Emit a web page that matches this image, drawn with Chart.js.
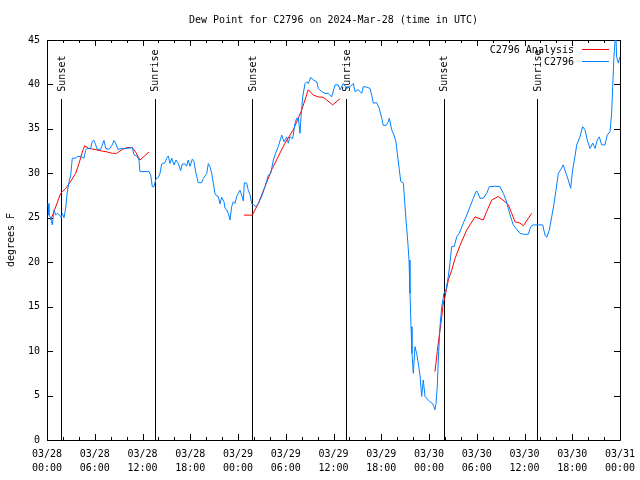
<!DOCTYPE html>
<html>
<head>
<meta charset="utf-8">
<script src="https://cdn.jsdelivr.net/npm/chart.js@4/dist/chart.umd.min.js"></script>
<style>
  body { margin: 0; background: #fff; }
  canvas { display: block; }
</style>
</head>
<body>
<canvas id="dewpoint" width="640" height="480"></canvas>
<script>
// hours since 2024-03-28 00:00 UTC
const obsHours = [
  0.13, 0.25, 0.46, 0.67, 0.88, 1.09, 1.29, 1.6, 1.8, 1.92,
  2.14, 2.35, 2.55, 2.76, 2.98, 3.18, 3.61, 3.81, 4.23, 4.65,
  4.86, 5.06, 5.49, 5.69, 5.91, 6.12, 6.32, 6.75, 7.16, 7.38,
  7.79, 8.2, 8.42, 8.63, 8.92, 9.46, 10.09, 10.72, 10.93, 11.35,
  11.56, 11.68, 12.19, 12.82, 13.03, 13.23, 13.44, 13.7, 13.99, 14.2,
  14.41, 14.83, 15.04, 15.24, 15.46, 15.67, 15.96, 16.21, 16.5, 16.8,
  17.0, 17.34, 17.55, 17.75, 17.97, 18.26, 18.47, 18.72, 19.0, 19.44,
  19.64, 20.07, 20.27, 20.48, 20.69, 20.9, 21.1, 21.32, 21.52, 21.74,
  21.95, 22.24, 22.37, 22.58, 22.78, 23.0, 23.2, 23.41, 23.62, 23.84,
  24.04, 24.25, 24.46, 24.67, 24.8, 25.09, 25.29, 25.5, 25.72, 26.0,
  26.26, 26.55, 26.98, 27.39, 27.81, 28.11, 28.44, 28.65, 29.06, 29.49,
  29.78, 30.12, 30.32, 30.53, 30.87, 31.16, 31.37, 31.58, 31.79, 31.92,
  32.13, 32.42, 32.63, 32.83, 33.13, 33.46, 33.89, 34.09, 34.51, 34.93,
  35.35, 35.77, 36.19, 36.6, 36.82, 37.23, 37.66, 38.07, 38.49, 38.7,
  39.12, 39.54, 39.74, 40.17, 40.59, 40.8, 41.0, 41.43, 41.76, 42.06,
  42.26, 42.6, 42.89, 43.01, 43.31, 43.6, 43.85, 44.02, 44.27, 44.45,
  44.78, 44.9, 45.11, 45.32, 45.49, 45.61, 45.74, 45.86, 46.03, 46.24,
  46.45, 46.66, 46.87, 47.08, 47.28, 47.5, 47.79, 48.12, 48.46, 48.75,
  48.88, 49.04, 49.17, 49.38, 49.6, 49.88, 50.14, 50.43, 50.64, 50.85,
  51.18, 51.5, 51.81, 52.31, 52.74, 53.15, 53.57, 53.9, 54.07, 54.41,
  54.82, 55.25, 55.58, 56.29, 56.92, 57.34, 57.67, 57.96, 58.26, 58.59,
  58.93, 59.43, 59.85, 60.48, 60.78, 61.1, 61.73, 62.29, 62.57, 62.79,
  63.11, 63.42, 63.71, 63.96, 64.25, 64.55, 64.87, 65.21, 65.5, 65.8,
  66.05, 66.34, 66.56, 66.97, 67.31, 67.6, 67.89, 68.23, 68.57, 68.86,
  69.15, 69.4, 69.7, 70.11, 70.4, 70.74, 70.95, 71.08, 71.24, 71.46,
  71.58, 71.78, 72.0
];
const obsDewPoint = [
  26.6, 25.3, 25.0, 24.2, 25.9, 25.3, 25.5, 25.3, 25.0, 25.5,
  25.0, 26.1, 27.9, 29.0, 29.8, 31.7, 31.7, 31.9, 31.9, 31.7,
  32.6, 32.8, 32.8, 33.6, 33.7, 33.2, 32.7, 32.7, 33.7, 32.8,
  32.7, 33.2, 33.7, 33.4, 32.7, 32.8, 32.8, 32.9, 32.1, 31.9,
  31.5, 30.2, 30.2, 30.2, 29.8, 28.5, 28.5, 29.4, 29.55, 30.0,
  31.05, 31.2, 31.7, 31.95, 31.1, 31.7, 30.95, 31.5, 31.1, 30.3,
  31.05, 31.05, 30.8, 31.5, 30.8, 31.6, 31.3, 30.0, 28.95, 28.95,
  29.4, 30.0, 31.1, 30.75, 30.0, 28.9, 27.75, 27.45, 27.4, 26.55,
  27.3, 26.8, 26.05, 25.9, 25.5, 24.75, 26.25, 26.8, 26.6, 27.4,
  27.75, 28.1, 27.55, 26.9, 28.95, 28.9, 28.1, 27.6, 26.6, 26.45,
  26.25, 26.6, 27.4, 28.5, 29.8, 30.0, 31.5, 32.1, 33.0, 34.3,
  33.55, 34.1, 33.4, 34.1, 33.9, 35.6, 36.2, 36.2, 34.5, 36.4,
  38.6, 40.1, 40.3, 40.1, 40.8, 40.5, 40.3, 39.55, 39.2, 39.0,
  39.0, 38.6, 39.95, 39.95, 39.4, 40.1, 39.55, 39.75, 40.1, 39.2,
  39.4, 39.0, 39.75, 39.7, 39.55, 38.8, 37.9, 37.95, 37.3, 36.2,
  35.4, 35.4, 35.8, 36.2, 34.9, 34.3, 33.55, 32.25, 30.4, 29.1,
  28.9, 27.4, 24.75, 22.5, 20.25, 16.5, 12.75, 9.75, 7.5, 10.5,
  9.75, 8.6, 7.3, 4.9, 6.75, 4.9, 4.6, 4.3, 4.1, 3.4,
  4.1, 6.0, 9.0, 12.75, 15.0, 16.5, 16.9, 18.4, 20.0, 21.75,
  21.8, 22.9, 23.25, 24.4, 25.3, 26.25, 27.2, 27.95, 27.95, 27.2,
  27.2, 27.75, 28.5, 28.55, 28.5, 27.75, 27.0, 26.05, 25.1, 24.2,
  23.8, 23.25, 23.15, 23.15, 24.0, 24.2, 24.2, 24.2, 23.05, 22.8,
  23.6, 25.1, 26.6, 28.1, 30.0, 30.4, 30.95, 30.0, 29.25, 28.3,
  30.4, 31.9, 33.2, 34.1, 35.25, 34.9, 33.75, 32.8, 33.4, 32.8,
  33.75, 34.1, 33.2, 33.2, 34.3, 34.7, 36.75, 39.75, 43.1, 46,
  43.1, 42.4, 43.1
];

// analysis runs, null = break between runs
const anaHours = [
  0.46, 0.88, 1.72, 2.35, 2.98, 3.61, 4.02, 4.44, 4.73, 5.28,
  5.91, 6.95, 7.58, 8.2, 8.76, 9.46, 10.09, 10.72, 11.14, 11.68,
  12.19, 12.82, 18,
  24.75, 25.8, 26.55, 27.39, 28.23, 29.06, 29.9, 30.95, 32.0, 32.83,
  33.46, 34.09, 34.72, 35.14, 35.9, 36.82, 42,
  48.75, 49.04, 49.29, 49.5, 49.8, 50.01, 50.43, 50.85, 51.27, 51.9,
  52.73, 53.78, 54.82, 55.25, 55.88, 56.71, 57.55, 57.97, 58.39, 58.8,
  59.43, 59.85, 60.9
];
const anaDewPoint = [
  24.75, 25.7, 27.75, 28.3, 29.1, 30.0, 31.1, 32.4, 33.1, 32.8,
  32.7, 32.5, 32.4, 32.25, 32.25, 32.7, 32.9, 32.9, 32.4, 31.5,
  31.9, 32.4, null,
  25.3, 25.3, 26.6, 28.5, 30.4, 31.9, 33.4, 34.9, 37.1, 39.4,
  38.8, 38.6, 38.55, 38.25, 37.7, 38.4, null,
  7.7, 9.95, 11.8, 13.1, 15.4, 16.1, 18.0, 19.1, 20.4, 21.9,
  23.6, 25.1, 24.75, 25.7, 27.0, 27.4, 26.8, 26.45, 25.5, 24.55,
  24.4, 24.1, 25.5
];

const sunEvents = ['Sunset', 'Sunrise', 'Sunset', 'Sunrise', 'Sunset', 'Sunrise'];
const sunHours = [1.8, 13.55, 25.8, 37.6, 49.85, 61.6];
const sunLineTop = 38.4; // degrees F where marker lines start

const xTickDays = ['03/28', '03/28', '03/28', '03/28', '03/29', '03/29', '03/29',
  '03/29', '03/30', '03/30', '03/30', '03/30', '03/31'];
const xTickTimes = ['00:00', '06:00', '12:00', '18:00', '00:00', '06:00', '12:00',
  '18:00', '00:00', '06:00', '12:00', '18:00', '00:00'];

const seriesNames = ['C2796 Analysis', 'C2796'];
const seriesColors = ['#ff0000', '#0080ff'];

const MONO = "'DejaVu Sans Mono', 'Liberation Mono', monospace";
Chart.defaults.font.family = MONO;
Chart.defaults.font.size = 10;
Chart.defaults.color = '#000';

function crisp(v) { return Math.round(v) + 0.5; }

const gnuplotFrame = {
  id: 'gnuplotFrame',
  beforeDatasetsDraw(chart) {
    const { ctx, chartArea: a, scales: { x, y } } = chart;
    ctx.save();
    ctx.strokeStyle = '#000';
    ctx.lineWidth = 1;
    ctx.beginPath();
    // border
    ctx.rect(crisp(a.left), crisp(a.top), Math.round(a.right - a.left), Math.round(a.bottom - a.top));
    // x ticks, inward, top and bottom
    for (let h = 0; h <= 72; h += 2) {
      const px = crisp(x.getPixelForValue(h));
      const len = h % 6 === 0 ? 6 : 3;
      ctx.moveTo(px, a.bottom); ctx.lineTo(px, a.bottom - len);
      ctx.moveTo(px, a.top); ctx.lineTo(px, a.top + len);
    }
    // y ticks, left and right
    y.ticks.forEach(t => {
      const py = crisp(y.getPixelForValue(t.value));
      ctx.moveTo(a.left, py); ctx.lineTo(a.left + 6, py);
      ctx.moveTo(a.right, py); ctx.lineTo(a.right - 6, py);
    });
    // sunrise / sunset markers
    const yTop = y.getPixelForValue(sunLineTop);
    sunHours.forEach(h => {
      const px = crisp(x.getPixelForValue(h));
      ctx.moveTo(px, Math.round(yTop)); ctx.lineTo(px, a.bottom);
    });
    ctx.stroke();

    ctx.fillStyle = '#000';
    ctx.font = '10px ' + MONO;
    ctx.textAlign = 'left';
    ctx.textBaseline = 'middle';
    sunHours.forEach((h, i) => {
      const px = x.getPixelForValue(h);
      ctx.save();
      ctx.translate(px + 1, yTop - 7);
      ctx.rotate(-Math.PI / 2);
      ctx.fillText(sunEvents[i], 0, 0);
      ctx.restore();
    });
    ctx.restore();
  },
  afterDatasetsDraw(chart) {
    const { ctx, chartArea: a } = chart;
    ctx.save();
    ctx.font = '10px ' + MONO;
    ctx.textAlign = 'right';
    ctx.textBaseline = 'middle';
    ctx.lineWidth = 1;
    seriesNames.forEach((name, i) => {
      const yy = a.top + 10 + i * 12;
      ctx.fillStyle = '#000';
      ctx.fillText(name, a.right - 46, yy);
      ctx.strokeStyle = seriesColors[i];
      ctx.beginPath();
      ctx.moveTo(a.right - 38, crisp(yy - 1));
      ctx.lineTo(a.right - 11, crisp(yy - 1));
      ctx.stroke();
    });
    ctx.restore();
  }
};

new Chart('dewpoint', {
  type: 'line',
  data: {
    datasets: [
      {
        label: seriesNames[0],
        data: anaHours.map((h, i) => ({ x: h, y: anaDewPoint[i] })),
        borderColor: seriesColors[0],
        borderWidth: 1,
        pointRadius: 0,
        spanGaps: false,
        order: 2
      },
      {
        label: seriesNames[1],
        data: obsHours.map((h, i) => ({ x: h, y: obsDewPoint[i] })),
        borderColor: seriesColors[1],
        borderWidth: 1,
        pointRadius: 0,
        order: 1
      }
    ]
  },
  options: {
    responsive: false,
    animation: false,
    layout: { padding: { left: 0, right: 20, top: 0, bottom: 0 } },
    plugins: {
      legend: { display: false },
      tooltip: { enabled: false },
      title: {
        display: true,
        text: 'Dew Point for C2796 on 2024-Mar-28 (time in UTC)',
        fullSize: false,
        color: '#000',
        font: { size: 10, weight: 'normal' },
        padding: { top: 14, bottom: 14 }
      }
    },
    scales: {
      x: {
        type: 'linear',
        min: 0,
        max: 72,
        grid: { display: false, drawTicks: false },
        border: { display: false },
        ticks: {
          stepSize: 6,
          autoSkip: false,
          maxRotation: 0,
          padding: 7,
          color: '#000',
          font: { size: 10, lineHeight: 1.4 },
          callback: v => [xTickDays[v / 6], xTickTimes[v / 6]]
        },
        afterFit: s => { s.height = 40; s.paddingLeft = 0; s.paddingRight = 0; }
      },
      y: {
        min: 0,
        max: 45,
        grid: { display: false, drawTicks: false },
        border: { display: false },
        ticks: { stepSize: 5, padding: 7, color: '#000' },
        title: {
          display: true,
          text: 'degrees F',
          color: '#000',
          font: { size: 10 },
          padding: { top: 5, bottom: 0 }
        },
        afterFit: s => { s.width = 47; s.paddingTop = 0; s.paddingBottom = 0; }
      }
    }
  },
  plugins: [gnuplotFrame]
});
</script>
</body>
</html>
